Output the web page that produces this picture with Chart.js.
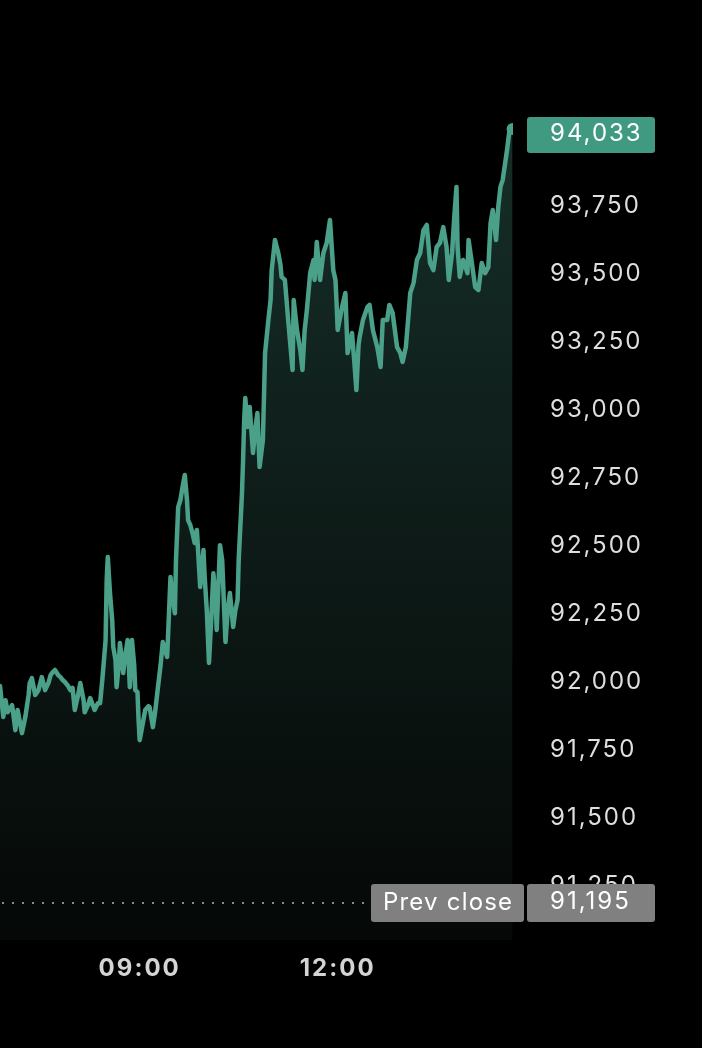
<!DOCTYPE html>
<html>
<head>
<meta charset="utf-8">
<script src="https://cdn.jsdelivr.net/npm/chart.js@4/dist/chart.umd.min.js"></script>
<style>
  html, body { margin: 0; padding: 0; background: #000; }
  #wrap { position: relative; width: 702px; height: 1048px; }
</style>
</head>
<body>
<div id="wrap"><canvas id="c"></canvas></div>
<script>
// minutes since midnight
const times = [413,416,418,420,424,427,429,433,436,439,440,442,445,448,451,454,457,459,461,463,466,468,470,472,475,477,479,481,484,486,489,490,493,495,498,499,502,504,506,507,509,510,511,513,515,516,518,519,521,522,524,525,527,529,530,531,533,535,536,538,539,540,542,545,548,549,552,554,556,559,561,563,565,568,569,572,573,575,577,579,581,583,584,586,588,590,592,595,598,599,601,603,605,607,609,610,613,615,616,618,620,622,625,627,629,630,633,634,635,636,638,640,643,645,647,649,652,654,657,659,660,663,666,668,669,672,675,677,679,680,683,686,688,690,692,695,698,699,701,704,707,710,713,716,718,719,720,724,727,729,733,735,737,739,740,743,747,749,752,756,759,761,765,767,770,774,777,779,782,786,789,792,795,798,801,804,807,810,813,816,819,821,824,826,828,829,831,834,838,839,842,845,848,851,854,857,859,861,864,866,868,870,872,874,876,879];
const prices = [91985,91871,91933,91889,91915,91823,91897,91812,91871,91952,91996,92014,91952,91970,92018,91970,91996,92025,92036,92044,92025,92018,92007,92000,91985,91970,91978,91897,91952,91996,91933,91889,91915,91941,91908,91897,91922,91922,92007,92055,92154,92375,92459,92327,92228,92128,92081,91981,92062,92143,92081,92033,92099,92154,92081,91981,92154,92062,91970,91963,91860,91786,91830,91897,91911,91908,91834,91889,91959,92062,92147,92117,92092,92386,92338,92253,92448,92643,92669,92717,92761,92669,92595,92577,92547,92511,92559,92349,92485,92393,92264,92070,92228,92400,92301,92191,92503,92448,92349,92147,92264,92327,92202,92264,92301,92448,92694,92816,92963,93044,92937,93011,92842,92926,92989,92790,92889,93209,93331,93404,93514,93625,93577,93533,93489,93478,93331,93239,93147,93404,93294,93220,93147,93294,93367,93503,93551,93478,93617,93478,93577,93614,93698,93514,93478,93393,93294,93378,93430,93209,93283,93184,93073,93239,93268,93331,93378,93386,93294,93231,93158,93331,93331,93386,93356,93231,93209,93176,93231,93430,93467,93551,93577,93661,93680,93540,93514,93599,93614,93672,93599,93478,93577,93709,93820,93599,93489,93551,93503,93625,93540,93452,93441,93540,93503,93525,93687,93735,93625,93746,93820,93845,93900,93956,94022,94033];
const prevClose = 91195;
const yTicks = [91250,91500,91750,92000,92250,92500,92750,93000,93250,93500,93750,94000];
const xTickValues = [540, 720];
const xTickLabels = ['09:00', '12:00'];
const prevCloseLabel = 'Prev close';

const fmt = v => Math.round(v).toLocaleString('en-US');
const FONT = 'Inter, "Liberation Sans", Arial, sans-serif';

const spacing = {
  id: 'spacing',
  beforeInit(chart) { chart.ctx.letterSpacing = '2px'; },
  beforeLayout(chart) { chart.ctx.letterSpacing = '2px'; },
  beforeDraw(chart) { chart.ctx.letterSpacing = '2px'; }
};

const overlay = {
  id: 'overlay',
  afterDraw(chart) {
    const ctx = chart.ctx;
    const y = chart.scales.y;
    const area = chart.chartArea;
    ctx.save();
    // prev close dotted line
    const py = y.getPixelForValue(prevClose) + 2;
    ctx.strokeStyle = '#8a8a8a';
    ctx.lineWidth = 2;
    ctx.setLineDash([2, 8]);
    ctx.beginPath();
    ctx.moveTo(area.left + 2, py);
    ctx.lineTo(370, py);
    ctx.stroke();
    ctx.setLineDash([]);

    const rr = (x, yy, w, h, r, c) => {
      ctx.fillStyle = c;
      ctx.beginPath();
      ctx.roundRect(x, yy, w, h, r);
      ctx.fill();
    };
    ctx.font = '24px ' + FONT;
    ctx.textBaseline = 'middle';
    ctx.textAlign = 'left';
    // prev close boxes
    rr(371, py - 19, 153, 38, 3, '#808080');
    rr(527, py - 19, 128, 38, 3, '#808080');
    ctx.fillStyle = '#ffffff';
    ctx.letterSpacing = '1.2px';
    ctx.fillText(prevCloseLabel, 383, py);
    ctx.letterSpacing = '2px';
    ctx.fillText(fmt(prevClose), 550, py - 1);
    // last value box
    const last = prices[prices.length - 1];
    const ly = y.getPixelForValue(last);
    rr(527, ly - 12, 128, 36, 3, '#409a82');
    ctx.fillStyle = '#ffffff';
    ctx.fillText(fmt(last), 550, ly + 5);
    ctx.restore();
  }
};

const ctx = document.getElementById('c').getContext('2d');
ctx.letterSpacing = '2px';
const chart = new Chart(ctx, {
  type: 'line',
  data: {
    datasets: [{
      data: times.map((t, i) => ({ x: t, y: prices[i] })),
      borderColor: '#4aa088',
      borderWidth: 4.5,
      borderJoinStyle: 'round',
      borderCapStyle: 'round',
      tension: 0,
      pointRadius: c => c.dataIndex === prices.length - 1 ? 6 : 0,
      pointBackgroundColor: '#4aa088',
      pointBorderWidth: 0,
      fill: 'start',
      backgroundColor: (c) => {
        const a = c.chart.chartArea;
        if (!a) return 'rgba(20,40,35,1)';
        const g = c.chart.ctx.createLinearGradient(0, 130, 0, a.bottom);
        g.addColorStop(0, 'rgb(22,46,40)');
        g.addColorStop(1, 'rgb(5,8,7)');
        return g;
      }
    }]
  },
  options: {
    responsive: true,
    maintainAspectRatio: false,
    animation: false,
    layout: { padding: 0, autoPadding: false },
    plugins: { legend: { display: false }, tooltip: { enabled: false } },
    scales: {
      x: {
        type: 'linear',
        min: 413,
        max: 879.4,
        grid: { display: false, drawTicks: false, tickLength: 0 },
        border: { display: false },
        afterFit: s => { s.height = 108; s.paddingLeft = 0; s.paddingRight = 0; },
        afterBuildTicks: s => { s.ticks = xTickValues.map(v => ({ value: v })); },
        ticks: {
          autoSkip: false,
          maxRotation: 0,
          padding: 14,
          color: '#d4d4d4',
          font: { family: FONT, size: 24, weight: 'bold' },
          callback: v => xTickLabels[xTickValues.indexOf(v)]
        }
      },
      y: {
        position: 'right',
        min: 91051.5,
        max: 94507,
        grid: { display: false, drawTicks: false, tickLength: 0 },
        border: { display: false },
        afterFit: s => { s.width = 189; s.paddingTop = 0; s.paddingBottom = 0; },
        afterBuildTicks: s => { s.ticks = yTicks.map(v => ({ value: v })); },
        ticks: {
          padding: 37,
          color: '#dedede',
          font: { family: FONT, size: 24 },
          callback: v => fmt(v)
        }
      }
    }
  },
  plugins: [spacing, overlay]
});
</script>
</body>
</html>
